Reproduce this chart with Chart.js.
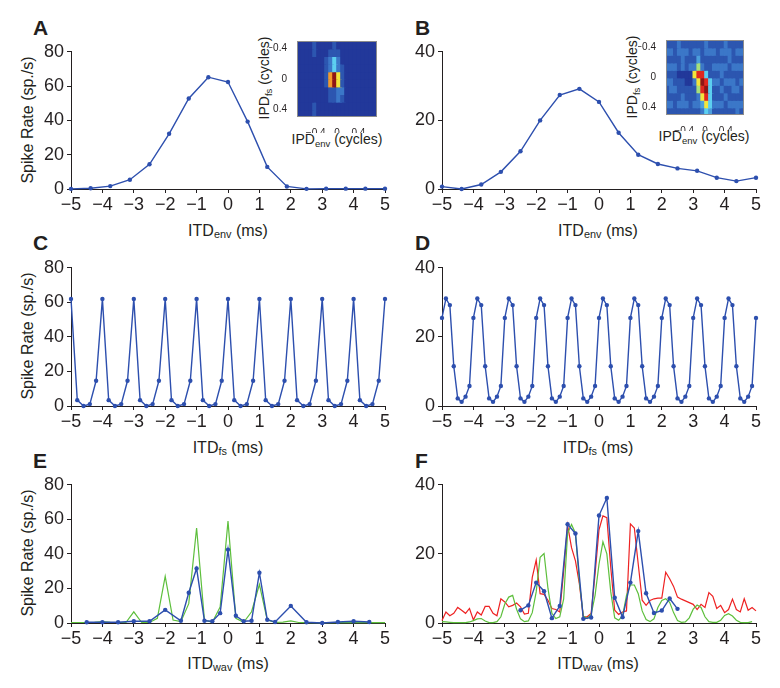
<!DOCTYPE html>
<html>
<head>
<meta charset="utf-8">
<script src="https://cdn.jsdelivr.net/npm/chart.js@4.4.1/dist/chart.umd.min.js"></script>
<style>
body { margin: 0; background: #fff; }
#fig { position: relative; width: 780px; height: 688px; overflow: hidden;
       font-family: "Liberation Sans", Arial, sans-serif; color: #231f20; }
#fig canvas { position: absolute; }
.lbl { position: absolute; font-weight: bold; font-size: 21px; line-height: 21px; }
.ttl { position: absolute; font-size: 16px; white-space: nowrap; transform: translate(-50%, -50%); }
.rot { transform: translate(-50%, -50%) rotate(-90deg); }
.small { font-size: 14px; }
.s { font-size: 0.68em; vertical-align: -0.25em; }
</style>
</head>
<body>
<div id="fig">
  <div class="lbl" style="left:33px;top:17px">A</div>
  <div class="lbl" style="left:415px;top:17px">B</div>
  <div class="lbl" style="left:33px;top:232px">C</div>
  <div class="lbl" style="left:415px;top:232px">D</div>
  <div class="lbl" style="left:33px;top:450px">E</div>
  <div class="lbl" style="left:415px;top:450px">F</div>

  <div class="ttl" style="left:228px;top:231px">ITD<span class="s">env</span> (ms)</div>
  <div class="ttl" style="left:598px;top:231px">ITD<span class="s">env</span> (ms)</div>
  <div class="ttl" style="left:228px;top:448px">ITD<span class="s">fs</span> (ms)</div>
  <div class="ttl" style="left:598px;top:448px">ITD<span class="s">fs</span> (ms)</div>
  <div class="ttl" style="left:228px;top:664px">ITD<span class="s">wav</span> (ms)</div>
  <div class="ttl" style="left:598px;top:664px">ITD<span class="s">wav</span> (ms)</div>

  <div class="ttl rot" style="left:28px;top:120px">Spike Rate (sp./s)</div>
  <div class="ttl rot" style="left:28px;top:336px">Spike Rate (sp./s)</div>
  <div class="ttl rot" style="left:28px;top:553px">Spike Rate (sp./s)</div>

  <div class="ttl small" style="left:337px;top:140px">IPD<span class="s">env</span> (cycles)</div>
  <div class="ttl small rot" style="left:265px;top:78px">IPD<span class="s">fs</span> (cycles)</div>
  <div class="ttl small" style="left:704px;top:137px">IPD<span class="s">env</span> (cycles)</div>
  <div class="ttl small rot" style="left:633px;top:77px">IPD<span class="s">fs</span> (cycles)</div>
</div>

<script>
// ---- data ----
const xTicks = [-5, -4, -3, -2, -1, 0, 1, 2, 3, 4, 5];
const yTicks80 = [0, 20, 40, 60, 80];
const yTicks40 = [0, 20, 40];
const insetTicks = [-0.4, 0, 0.4];

// A, B: envelope ITD
const itdEnv = [-5, -4.375, -3.75, -3.125, -2.5, -1.875, -1.25, -0.625, 0, 0.625, 1.25, 1.875, 2.5, 3.125, 3.75, 4.375, 5];
const rateA = [0.1, 0.4, 1.7, 5.4, 14.4, 32.2, 52.8, 65.2, 62.4, 39.3, 12.9, 1.5, 0.1, 0.2, 0.2, 0.2, 0.2];
const rateB = [0.7, 0, 1.3, 5, 11, 20, 27.4, 29.2, 25.4, 16.4, 10, 7.3, 6, 5.3, 3.3, 2.3, 3.3];

// C: fine structure ITD, 0.2 ms steps
const itdFs = [-5, -4.8, -4.6, -4.4, -4.2, -4, -3.8, -3.6, -3.4, -3.2, -3, -2.8, -2.6, -2.4, -2.2,
  -2, -1.8, -1.6, -1.4, -1.2, -1, -0.8, -0.6, -0.4, -0.2, 0, 0.2, 0.4, 0.6, 0.8, 1, 1.2, 1.4, 1.6, 1.8,
  2, 2.2, 2.4, 2.6, 2.8, 3, 3.2, 3.4, 3.6, 3.8, 4, 4.2, 4.4, 4.6, 4.8, 5];
const rateC = [62, 3.4, 0, 1.1, 14.6, 62, 3.4, 0, 1.1, 14.6, 62, 3.4, 0, 1.1, 14.6, 62, 3.4, 0, 1.1, 14.6,
  62, 3.4, 0, 1.1, 14.6, 62, 3.4, 0, 1.1, 14.6, 62, 3.4, 0, 1.1, 14.6, 62, 3.4, 0, 1.1, 14.6,
  62, 3.4, 0, 1.1, 14.6, 62, 3.4, 0, 1.1, 14.6, 62];

// 0.125 ms grid (D and F traces)
const itdFine = [-5, -4.875, -4.75, -4.625, -4.5, -4.375, -4.25, -4.125, -4, -3.875, -3.75, -3.625, -3.5, -3.375, -3.25, -3.125,
  -3, -2.875, -2.75, -2.625, -2.5, -2.375, -2.25, -2.125, -2, -1.875, -1.75, -1.625, -1.5, -1.375, -1.25, -1.125,
  -1, -0.875, -0.75, -0.625, -0.5, -0.375, -0.25, -0.125, 0, 0.125, 0.25, 0.375, 0.5, 0.625, 0.75, 0.875,
  1, 1.125, 1.25, 1.375, 1.5, 1.625, 1.75, 1.875, 2, 2.125, 2.25, 2.375, 2.5, 2.625, 2.75, 2.875,
  3, 3.125, 3.25, 3.375, 3.5, 3.625, 3.75, 3.875, 4, 4.125, 4.25, 4.375, 4.5, 4.625, 4.75, 4.875, 5];
const rateD = [25.5, 31.1, 29.2, 11.5, 2.2, 1.2, 2.7, 5.8, 25.5, 31.1, 29.2, 11.5, 2.2, 1.2, 2.7, 5.8,
  25.5, 31.1, 29.2, 11.5, 2.2, 1.2, 2.7, 5.8, 25.5, 31.1, 29.2, 11.5, 2.2, 1.2, 2.7, 5.8,
  25.5, 31.1, 29.2, 11.5, 2.2, 1.2, 2.7, 5.8, 25.5, 31.1, 29.2, 11.5, 2.2, 1.2, 2.7, 5.8,
  25.5, 31.1, 29.2, 11.5, 2.2, 1.2, 2.7, 5.8, 25.5, 31.1, 29.2, 11.5, 2.2, 1.2, 2.7, 5.8,
  25.5, 31.1, 29.2, 11.5, 2.2, 1.2, 2.7, 5.8, 25.5, 31.1, 29.2, 11.5, 2.2, 1.2, 2.7, 5.8, 25.5];

// E: waveform ITD, measured (blue) and predicted (green)
const itdE = [-4.5, -4, -3.5, -3, -2.5, -2, -1.5, -1.25, -1, -0.75, -0.5, -0.25, 0, 0.25, 0.5, 0.75, 1, 1.25, 1.5, 2, 2.5, 3, 3.5, 4, 4.5];
const rateE = [0.4, 0.4, 0.4, 1, 1, 7.6, 1.3, 17.5, 31.6, 1.3, 1, 5.7, 42.5, 4.2, 1, 1.3, 29.1, 1.9, 0.6, 9.9, 0.4, 0, 0.6, 1, 0.6];
const itdQuarter = [-5, -4.75, -4.5, -4.25, -4, -3.75, -3.5, -3.25, -3, -2.75, -2.5, -2.25, -2, -1.75, -1.5, -1.25,
  -1, -0.75, -0.5, -0.25, 0, 0.25, 0.5, 0.75, 1, 1.25, 1.5, 1.75, 2, 2.25, 2.5, 2.75, 3, 3.25, 3.5, 3.75, 4, 4.25, 4.5, 4.75, 5];
const predE = [0.3, 0.3, 0.3, 0.4, 0.8, 0.4, 0.3, 0.3, 6.5, 0.3, 0.3, 2.7, 27, 1.7, 0.8, 11.2,
  55, 1.7, 0.4, 9.3, 59, 2.7, 0.4, 6.5, 22.3, 1.7, 0.4, 0.5, 1.2, 0.3, 0.2, 0.2, 0.2, 0.2, 0.2, 0.2, 0.2, 0.2, 0.2, 0.2, 0.2];

// F: measured (blue), red and green traces
const itdF = [-2.5, -2.25, -2, -1.75, -1.5, -1.25, -1, -0.75, -0.5, -0.25, 0, 0.25, 0.5, 0.75, 1, 1.25, 1.5, 1.75, 2, 2.25, 2.5];
const rateF = [3.7, 5.1, 11.7, 9.2, 1.4, 4.9, 28.6, 25.9, 1.2, 1.6, 31.1, 36.2, 7.3, 1.7, 11.7, 26.6, 8.6, 2.9, 3.6, 7.1, 4.1];
const redF = [0.7, 3.2, 2.1, 2.8, 4.5, 3.7, 2.8, 4.2, 0.9, 3.2, 2.3, 4.8, 4.8, 2.8, 2.1, 7.0,
  6.1, 4.7, 5.1, 5.8, 4.7, 2.6, 2.8, 13.2, 18.2, 8.5, 8.3, 6.6, 4.2, 3.9, 3.2, 15,
  28.3, 21.8, 18, 11.3, 1.8, 1.8, 2.8, 14.2, 27, 31, 30.5, 16, 3.7, 2.5, 3.2, 3.5,
  28.7, 27.5, 17, 6.6, 5.1, 6.5, 7, 7.2, 7.2, 14.7, 12.8, 10.6, 7.5, 6.9, 6.4, 5.9,
  5.4, 3.9, 5.4, 4.5, 8.8, 7.7, 4.2, 5.1, 3.0, 3.9, 6.9, 3.9, 3.2, 7.0, 3.7, 4.5, 3.5];
const greenF = [0.4, 0.3, 0.2, 0.1, 0.1, 0.1, 0.1, 0.3, 0.7, 1.2, 1.3, 0.6, 0.1, 0.1, 0.4, 1.8,
  5.5, 7.5, 8, 4, 1.2, 0.4, 0.6, 3, 9, 19, 20.1, 10, 2.8, 1.3, 1.8, 7,
  26, 28.5, 26, 12, 2, 1.3, 2.5, 8, 17, 23.5, 20, 9, 1.5, 0.8, 2, 8,
  11, 11, 8.5, 3.5, 1, 0.4, 1.2, 4.5, 6.5, 7, 6, 3, 0.7, 0.2, 0.3, 1.5,
  4, 5.2, 4.5, 1.8, 0.4, 0.2, 0.2, 0.8, 2.2, 2.7, 2, 0.8, 0.2, 0.1, 0.1, 0.4, null];

// insets: IPD grid and colour levels (0 = low ... 10 = high)
const ipdCols = [-0.475, -0.425, -0.375, -0.325, -0.275, -0.225, -0.175, -0.125, -0.075, -0.025,
  0.025, 0.075, 0.125, 0.175, 0.225, 0.275, 0.325, 0.375, 0.425, 0.475];
const ipdRowEdges = [-0.5, -0.4, -0.3, -0.2, -0.1, 0, 0.1, 0.2, 0.3, 0.4, 0.5];
const heatA = [
  [1, 1, 1, 1, 2, 1, 1, 1, 1, 2, 1, 1, 1, 1, 1, 1, 1, 1, 1, 1],
  [1, 1, 1, 1, 2, 1, 1, 1, 2, 2, 2, 1, 1, 1, 1, 1, 1, 1, 1, 1],
  [1, 1, 1, 1, 1, 1, 1, 2, 3, 5, 3, 1, 1, 1, 1, 1, 1, 1, 1, 1],
  [1, 1, 1, 1, 1, 1, 1, 2, 3, 5, 3, 2, 1, 1, 1, 1, 1, 1, 1, 1],
  [1, 1, 1, 1, 1, 1, 1, 2, 8, 10, 7, 2, 1, 1, 1, 1, 1, 1, 1, 1],
  [1, 1, 1, 1, 1, 1, 1, 2, 8, 10, 7, 2, 1, 1, 1, 1, 1, 1, 1, 1],
  [1, 1, 1, 1, 1, 1, 1, 1, 2, 2, 3, 3, 1, 1, 1, 1, 1, 1, 1, 1],
  [1, 1, 1, 1, 1, 1, 1, 1, 2, 2, 3, 2, 1, 1, 1, 1, 1, 1, 1, 1],
  [1, 1, 1, 1, 2, 1, 1, 1, 1, 1, 1, 1, 1, 1, 1, 1, 1, 1, 1, 1],
  [1, 1, 1, 1, 2, 1, 1, 1, 1, 1, 1, 1, 1, 1, 1, 1, 1, 1, 1, 1]
];
const heatB = [
  [2, 2, 2, 3, 2, 2, 2, 2, 2, 2, 3, 2, 2, 2, 2, 3, 2, 2, 2, 2],
  [3, 3, 2, 3, 3, 3, 2, 3, 3, 2, 3, 3, 3, 2, 3, 3, 3, 2, 3, 3],
  [2, 2, 2, 2, 3, 2, 2, 2, 4, 2, 2, 2, 2, 2, 2, 2, 3, 2, 2, 2],
  [3, 3, 3, 2, 3, 2, 3, 3, 6, 3, 2, 2, 3, 3, 3, 3, 2, 3, 3, 3],
  [2, 2, 2, 1, 1, 1, 1, 7, 9, 9, 5, 2, 2, 2, 3, 2, 2, 2, 2, 2],
  [3, 3, 2, 2, 2, 1, 1, 3, 7, 10, 9, 5, 3, 3, 2, 3, 3, 3, 2, 3],
  [2, 3, 3, 2, 2, 2, 2, 2, 6, 9, 10, 5, 2, 2, 3, 2, 2, 3, 3, 2],
  [2, 2, 2, 2, 3, 2, 2, 2, 3, 7, 9, 5, 2, 2, 2, 3, 2, 2, 2, 2],
  [3, 3, 2, 3, 3, 3, 2, 3, 3, 4, 7, 5, 3, 3, 3, 2, 3, 3, 3, 3],
  [2, 2, 2, 2, 2, 2, 2, 2, 2, 3, 5, 4, 2, 2, 2, 2, 2, 2, 3, 2]
];

// ---- styles ----
const BLUE = '#2d4fae';
const GREEN = '#5dbf3c';
const RED = '#ee2222';
const INK = '#231f20';
const heatColours = ['#1a2670', '#22389a', '#2c56b0', '#3b77c8', '#4c9fdc', '#5ccff0',
  '#a6e07a', '#f2e63c', '#f29a2c', '#e0281e', '#8e1616'];

Chart.defaults.font.family = '"Liberation Sans", Arial, sans-serif';
Chart.defaults.color = INK;

const fig = document.getElementById('fig');
const minus = v => (v < 0 ? '\u2212' + Math.abs(v) : String(v));

function addCanvas(left, top, w, h) {
  let cv = document.createElement('canvas');
  cv.width = w;
  cv.height = h;
  cv.style.left = left + 'px';
  cv.style.top = top + 'px';
  fig.appendChild(cv);
  return cv;
}

function markers(xs, ys) {
  return {
    data: xs.map((x, i) => ({ x: x, y: ys[i] })),
    borderColor: BLUE, backgroundColor: BLUE,
    borderWidth: 1.4, pointRadius: 2.2, pointBorderWidth: 0,
    tension: 0, clip: false
  };
}

function trace(xs, ys, colour) {
  return {
    data: xs.map((x, i) => ({ x: x, y: ys[i] })),
    borderColor: colour, borderWidth: 1.2, pointRadius: 0,
    tension: 0, clip: false
  };
}

// area = [left, top, right, bottom] of the plotting box on the page
function linePanel(area, yMax, yTicks, datasets) {
  const [l, t, r, b] = area;
  let cv = addCanvas(l - 40, t - 12, r - l + 52, b - t + 44);
  new Chart(cv, {
    type: 'line',
    data: { datasets: datasets },
    options: {
      responsive: false, animation: false, events: [],
      layout: { padding: { top: 12, right: 12, left: 0, bottom: 0 } },
      plugins: { legend: { display: false }, tooltip: { enabled: false } },
      scales: {
        x: {
          type: 'linear', min: -5, max: 5,
          afterBuildTicks: s => { s.ticks = xTicks.map(v => ({ value: v })); },
          afterFit: s => { s.height = 32; },
          grid: { drawOnChartArea: false, tickLength: 4, color: INK },
          border: { color: INK, width: 1 },
          ticks: { callback: minus, font: { size: 18 }, padding: 1, autoSkip: false, maxRotation: 0 }
        },
        y: {
          min: 0, max: yMax,
          afterBuildTicks: s => { s.ticks = yTicks.map(v => ({ value: v })); },
          afterFit: s => { s.width = 40; },
          grid: { drawOnChartArea: false, tickLength: 4, color: INK },
          border: { color: INK, width: 1 },
          ticks: { font: { size: 18 }, padding: 3 }
        }
      }
    }
  });
}

const boxPlugin = {
  id: 'box',
  afterDraw(c) {
    const a = c.chartArea, ctx = c.ctx;
    ctx.save();
    ctx.strokeStyle = '#8c8c8c';
    ctx.lineWidth = 1;
    ctx.strokeRect(a.left + 0.5, a.top + 0.5, a.width - 1, a.height - 1);
    ctx.restore();
  }
};

function heatPanel(area, rows) {
  const [l, t, r, b] = area;
  let cv = addCanvas(l - 28, t - 6, r - l + 40, b - t + 22);
  const datasets = rows.map((row, k) => ({
    data: row.map(() => [ipdRowEdges[k], ipdRowEdges[k + 1]]),
    backgroundColor: row.map(v => heatColours[v]),
    borderWidth: 0, inflateAmount: 0.8,
    grouped: false, categoryPercentage: 1, barPercentage: 1
  }));
  new Chart(cv, {
    type: 'bar',
    data: { labels: ipdCols, datasets: datasets },
    plugins: [boxPlugin],
    options: {
      responsive: false, animation: false, events: [],
      layout: { padding: { top: 6, right: 12, left: 0, bottom: 0 } },
      plugins: { legend: { display: false }, tooltip: { enabled: false } },
      scales: {
        x: { type: 'category', display: false },
        xt: {
          type: 'linear', position: 'bottom', min: -0.5, max: 0.5,
          afterBuildTicks: s => { s.ticks = insetTicks.map(v => ({ value: v })); },
          afterFit: s => { s.height = 16; },
          grid: { display: false }, border: { display: false },
          ticks: { callback: minus, font: { size: 10 }, padding: 2, autoSkip: false, maxRotation: 0 }
        },
        y: {
          type: 'linear', min: -0.5, max: 0.5, reverse: true,
          afterBuildTicks: s => { s.ticks = insetTicks.map(v => ({ value: v })); },
          afterFit: s => { s.width = 28; },
          grid: { display: false }, border: { display: false },
          ticks: { callback: minus, font: { size: 10 }, padding: 2 }
        }
      }
    }
  });
}

linePanel([71, 50, 385, 189], 80, yTicks80, [markers(itdEnv, rateA)]);
linePanel([442, 50, 756, 189], 40, yTicks40, [markers(itdEnv, rateB)]);
linePanel([71, 266, 385, 406], 80, yTicks80, [markers(itdFs, rateC)]);
linePanel([442, 266, 756, 406], 40, yTicks40, [markers(itdFine, rateD)]);
linePanel([71, 483, 385, 623], 80, yTicks80, [markers(itdE, rateE), trace(itdQuarter, predE, GREEN)]);
linePanel([442, 483, 756, 623], 40, yTicks40,
  [markers(itdF, rateF), trace(itdFine, greenF, GREEN), trace(itdFine, redF, RED)]);

heatPanel([297, 39, 377, 117], heatA);
heatPanel([666, 38, 744, 115], heatB);
</script>
</body>
</html>
